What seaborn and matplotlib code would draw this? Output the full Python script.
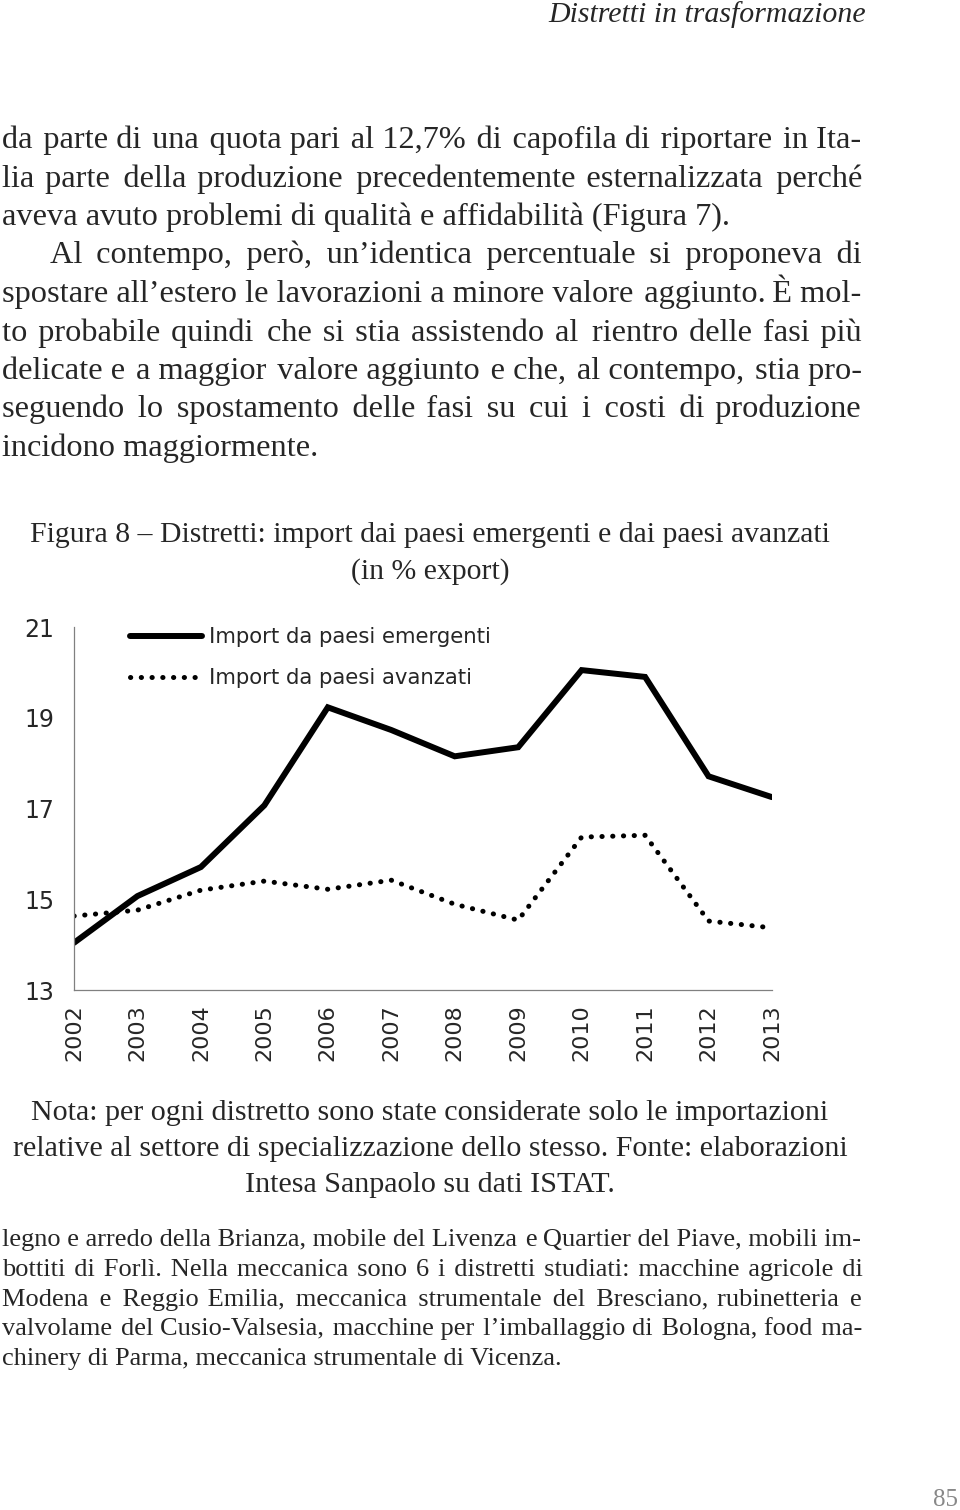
import matplotlib
matplotlib.use("Agg")
import matplotlib.pyplot as plt
from matplotlib.font_manager import FontProperties
import seaborn as sns
import pandas as pd

# chart data
years = [2002, 2003, 2004, 2005, 2006, 2007, 2008, 2009, 2010, 2011, 2012, 2013]
emergenti = [14.04, 15.07, 15.71, 17.07, 19.23, 18.73, 18.15, 18.35, 20.05, 19.90, 17.71, 17.25]
avanzati = [14.63, 14.76, 15.20, 15.40, 15.22, 15.42, 14.89, 14.54, 16.37, 16.41, 14.52, 14.37]
series_labels = ["Import da paesi emergenti", "Import da paesi avanzati"]
y_ticks = [13, 15, 17, 19, 21]

# page text
header = "Distretti in trasformazione"
body_lines = [
    "da parte di una quota pari al 12,7% di capofila di riportare in Ita-",
    "lia parte della produzione precedentemente esternalizzata perché",
    "aveva avuto problemi di qualità e affidabilità (Figura 7).",
    "Al contempo, però, un’identica percentuale si proponeva di",
    "spostare all’estero le lavorazioni a minore valore aggiunto. È mol-",
    "to probabile quindi che si stia assistendo al rientro delle fasi più",
    "delicate e a maggior valore aggiunto e che, al contempo, stia pro-",
    "seguendo lo spostamento delle fasi su cui i costi di produzione",
    "incidono maggiormente.",
]
caption_lines = [
    "Figura 8 – Distretti: import dai paesi emergenti e dai paesi avanzati",
    "(in % export)",
]
note_lines = [
    "Nota: per ogni distretto sono state considerate solo le importazioni",
    "relative al settore di specializzazione dello stesso. Fonte: elaborazioni",
    "Intesa Sanpaolo su dati ISTAT.",
]
foot_lines = [
    "legno e arredo della Brianza, mobile del Livenza e Quartier del Piave, mobili im-",
    "bottiti di Forlì. Nella meccanica sono 6 i distretti studiati: macchine agricole di",
    "Modena e Reggio Emilia, meccanica strumentale del Bresciano, rubinetteria e",
    "valvolame del Cusio-Valsesia, macchine per l’imballaggio di Bologna, food ma-",
    "chinery di Parma, meccanica strumentale di Vicenza.",
]
page_number = "85"

W, H = 960, 1510
SERIF = ["Liberation Serif", "DejaVu Serif"]


def px(x, y):
    return x / W, 1 - y / H


def justify(renderer, s, width, size):
    # rebuild the line with wider spaces so it fills the measure as one text
    prop = FontProperties(family=SERIF, size=size)

    def w(t):
        return renderer.get_text_width_height_descent(t, prop, ismath=False)[0]

    words = s.split(" ")
    widths = [w(x) for x in words]
    gap = (width - sum(widths)) / (len(words) - 1)
    out = words[0]
    for k in range(1, len(words)):
        target = sum(widths[:k + 1]) + k * gap
        filler = ""
        for ch in (" ", "\u2009", "\u200a"):
            while w(out + filler + ch + words[k]) <= target:
                filler += ch
        if not filler:
            filler = "\u200a"
        elif abs(w(out + filler + "\u200a" + words[k]) - target) < abs(w(out + filler + words[k]) - target):
            filler += "\u200a"
        out += filler + words[k]
    return out


def put_line(fig, renderer, s, x0, x1, base, size, just):
    if just:
        s = justify(renderer, s, x1 - x0, size)
    fig.text(*px(x0, base), s, fontsize=size, va="baseline", family=SERIF)


sns.set_theme(style="white")
plt.rcParams["font.family"] = ["DejaVu Sans"]

fig = plt.figure(figsize=(W / 100, H / 100), dpi=100)
renderer = fig.canvas.get_renderer()

# header
fig.text(*px(866, 22), header, fontsize=21.5, fontstyle="italic", family=SERIF,
         ha="right", va="baseline")

# body paragraph
for i, line in enumerate(body_lines):
    base = 148 + i * 38.5
    x0 = 50 if i == 3 else 2
    put_line(fig, renderer, line, x0, 862, base, 23.3, i not in (2, 8))

# caption
for i, line in enumerate(caption_lines):
    fig.text(*px(430, 542 + i * 37), line, fontsize=21.4, family=SERIF, ha="center", va="baseline")

# chart
ax = fig.add_axes([74 / W, 1 - 990 / H, (772 - 74) / W, (990 - 627) / H])
df = pd.DataFrame({"anno": years * 2,
                   "valore": emergenti + avanzati,
                   "serie": [series_labels[0]] * len(years) + [series_labels[1]] * len(years)})
sns.lineplot(data=df[df["serie"] == series_labels[0]], x="anno", y="valore", ax=ax,
             color="black", linewidth=4.3, label=series_labels[0], solid_joinstyle="miter")
sns.lineplot(data=df[df["serie"] == series_labels[1]], x="anno", y="valore", ax=ax,
             color="black", linewidth=3.6, label=series_labels[1],
             linestyle=(0, (0.05, 2.1)), dash_capstyle="round")
ax.set_xlim(years[0], years[-1])
ax.set_ylim(y_ticks[0], y_ticks[-1])
ax.set_xticks(years)
ax.set_xticklabels([str(y) for y in years], rotation=90, fontsize=16)
ax.set_yticks(y_ticks)
ax.set_yticklabels([str(t) for t in y_ticks], fontsize=17)
ax.set_xlabel("")
ax.set_ylabel("")
for side in ("top", "right"):
    ax.spines[side].set_visible(False)
for side in ("left", "bottom"):
    ax.spines[side].set_color("#808080")
    ax.spines[side].set_linewidth(0.9)
ax.tick_params(axis="x", direction="out", length=6, width=0.9, color="#808080", pad=4)
ax.tick_params(axis="y", length=0, pad=14)
ax.grid(False)
ax.set_facecolor("white")
ax.legend(loc="upper left", bbox_to_anchor=px(130, 627), bbox_transform=fig.transFigure,
          frameon=False, fontsize=15.3, handlelength=3.4, handletextpad=0.3,
          labelspacing=1.0, borderpad=0, borderaxespad=0)

# note
for i, line in enumerate(note_lines):
    fig.text(*px(430, 1120 + i * 36), line, fontsize=21.6, family=SERIF, ha="center", va="baseline")

# footnote
for i, line in enumerate(foot_lines):
    put_line(fig, renderer, line, 2, 862, 1246 + i * 29.8, 19, i != len(foot_lines) - 1)

# page number
fig.text(*px(958, 1506), page_number, fontsize=18, family=SERIF, color="#888888",
         ha="right", va="baseline")

fig.savefig("out.png", dpi=100, facecolor="white")
